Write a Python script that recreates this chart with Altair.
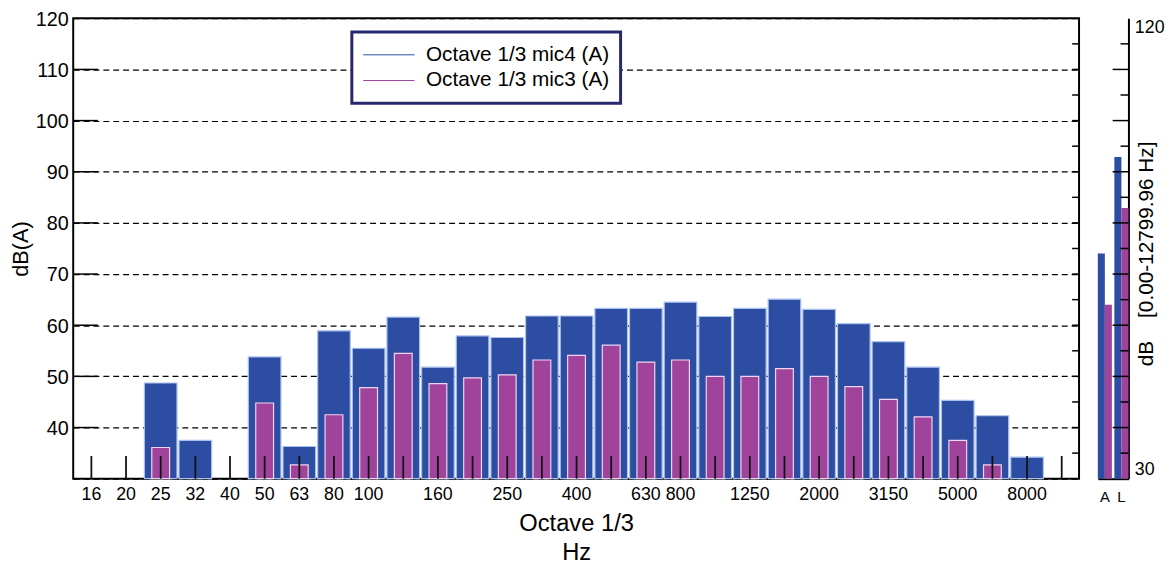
import altair as alt
import pandas as pd

# ---- data -------------------------------------------------------------
bands = ["16", "20", "25", "32", "40", "50", "63", "80", "100", "125",
         "160", "200", "250", "315", "400", "500", "630", "800", "1000",
         "1250", "1600", "2000", "2500", "3150", "4000", "5000", "6300",
         "8000", "10000"]
unlabeled_bands = ["125", "200", "315", "500", "1000", "1600", "2500",
                   "4000", "6300", "10000"]
mic4 = [None, None, 48.7, 37.5, None, 53.8, 36.3, 58.9, 55.5, 61.6,
        51.8, 57.9, 57.6, 61.8, 61.8, 63.3, 63.3, 64.5, 61.7, 63.3,
        65.1, 63.1, 60.3, 56.8, 51.8, 45.3, 42.3, 34.2, None]
mic3 = [None, None, 36.1, None, None, 44.8, 32.7, 42.5, 47.8, 54.5,
        48.6, 49.7, 50.3, 53.2, 54.1, 56.1, 52.8, 53.2, 50.0, 50.0,
        51.5, 50.0, 48.0, 45.5, 42.1, 37.5, 32.7, None, None]
series_names = ["Octave 1/3 mic4 (A)", "Octave 1/3 mic3 (A)"]
colors = ["#2c4da1", "#a0449b"]

left_ticks = [40, 50, 60, 70, 80, 90, 100, 110]
right_ticks = [35, 40, 45, 50, 55, 60, 65, 70, 75, 80, 85, 90, 95, 100,
               105, 110, 115]

sum_labels = ["A", "L"]
sum_mic4 = [74.0, 92.9]
sum_mic3 = [64.0, 82.9]
small_long = [40, 50, 60, 70, 80, 90, 100, 110]
small_short = [35, 45, 55, 65, 75, 85, 95, 105, 115]

W, H = 1018, 466
W2 = 31

# ---- tables -----------------------------------------------------------
rows = []
for i, b in enumerate(bands):
    rows.append({"band": b, "series": series_names[0], "val": mic4[i]})
    rows.append({"band": b, "series": series_names[1], "val": mic3[i]})
df = pd.DataFrame(rows)
df = df.dropna(subset=["val"])
df4 = df[df["series"] == series_names[0]]
df3 = df[df["series"] == series_names[1]]

srows = []
for i, lab in enumerate(sum_labels):
    srows.append({"label": lab, "series": series_names[0], "val": sum_mic4[i]})
    srows.append({"label": lab, "series": series_names[1], "val": sum_mic3[i]})
sdf = pd.DataFrame(srows)

x_scale = alt.Scale(domain=bands, paddingInner=0, paddingOuter=0.012, align=1)
y_scale = alt.Scale(domain=[30, 120], nice=False, zero=False)
color_scale = alt.Scale(domain=series_names, range=colors)

x_label_expr = " || ".join("datum.value == '" + b + "'" for b in unlabeled_bands)
x_label_expr = "(" + x_label_expr + ") ? '' : datum.label"

FONT = "Liberation Sans"

# shared axis definitions (identical in every layer so they merge cleanly)
x_axis = alt.Axis(labelExpr=x_label_expr, tickSize=0, domain=False,
                  grid=False, labelPadding=7, labelFontSize=18,
                  labelOverlap=False, labelAngle=0,
                  title=["Octave 1/3", "Hz"], titleFontSize=24,
                  titlePadding=8, titleLineHeight=30,
                  titleFontWeight="normal")
y_axis = alt.Axis(tickCount=9, labelExpr="datum.value == 30 ? '' : datum.label",
                  grid=True, gridDash=[6, 4], gridColor="black",
                  gridWidth=1.2, gridOpacity=1, tickSize=0, domain=False,
                  labelPadding=5, labelFontSize=20, labelOffset=1,
                  title="dB(A)", titleFontSize=22, titlePadding=3,
                  titleFontWeight="normal")
small_y_axis = alt.Axis(orient="right", tickCount=9,
                        labelExpr="(datum.value == 30 || datum.value == 120) ? datum.label : ''",
                        labelFlush=True, tickSize=0, grid=False, domain=True,
                        domainColor="black", domainWidth=2, labelPadding=6,
                        labelFontSize=18,
                        title="dB\u00a0\u00a0\u00a0\u00a0[0.00-12799.96 Hz]",
                        titleAngle=270, titleX=18, titleY=238,
                        titleFontSize=21, titleAlign="center",
                        titleBaseline="middle", titleFontWeight="normal")

X = alt.X("band:N", scale=x_scale, sort=bands, axis=x_axis)

# ---- main panel ---------------------------------------------------------
blue = alt.Chart(df4).mark_bar(width=33, stroke="#a9c1ef", strokeWidth=1.2).encode(
    x=X,
    y=alt.Y("val:Q", scale=y_scale, axis=y_axis),
    y2=alt.datum(30),
    color=alt.Color("series:N", scale=color_scale, legend=None),
)

magenta = alt.Chart(df3).mark_bar(width=18, stroke="#f0d4f2", strokeWidth=1.2).encode(
    x=X,
    y=alt.Y("val:Q", scale=y_scale, axis=y_axis),
    y2=alt.datum(30),
    color=alt.Color("series:N", scale=color_scale, legend=None),
)

legend_layer = alt.Chart(df).mark_line(strokeWidth=1).encode(
    x=X,
    y=alt.Y("val:Q", scale=y_scale, axis=y_axis),
    stroke=alt.Stroke("series:N", scale=color_scale,
                      legend=alt.Legend(title=None, orient="none", legendX=282,
                                        legendY=14, symbolType="stroke",
                                        symbolSize=2704, symbolStrokeWidth=1,
                                        labelFontSize=21, labelOffset=11,
                                        labelLimit=400, clipHeight=24,
                                        rowPadding=2, padding=11,
                                        strokeColor="#27296f",
                                        fillColor="white")),
).transform_filter("false")

bottom_ticks = alt.Chart(pd.DataFrame({"band": bands})).mark_rule(
    color="#111111", strokeWidth=1.8).encode(
    x=X,
    y=alt.value(H - 23), y2=alt.value(H),
)

left_tick_rules = alt.Chart(pd.DataFrame({"val": left_ticks})).mark_rule(
    color="black", strokeWidth=1.5).encode(
    y=alt.Y("val:Q", scale=y_scale, axis=y_axis),
    x=alt.value(0), x2=alt.value(25),
)

right_tick_rules = alt.Chart(pd.DataFrame({"val": right_ticks})).mark_rule(
    color="black", strokeWidth=1.5).encode(
    y=alt.Y("val:Q", scale=y_scale, axis=y_axis),
    x=alt.value(W - 7), x2=alt.value(W),
)

main = alt.layer(blue, magenta, legend_layer, bottom_ticks, left_tick_rules,
                 right_tick_rules).properties(
    width=W, height=H,
    view=alt.ViewBackground(stroke="black", strokeWidth=2),
)

# ---- summary panel -----------------------------------------------------
sbars = alt.Chart(sdf).mark_bar().encode(
    x=alt.X("label:N", sort=sum_labels,
            scale=alt.Scale(paddingInner=0.15, paddingOuter=0),
            axis=alt.Axis(title=None, labelAngle=0, tickSize=0, domain=True,
                          domainColor="black", domainWidth=2, labelPadding=11,
                          labelFontSize=15)),
    xOffset=alt.XOffset("series:N", sort=series_names),
    y=alt.Y("val:Q", scale=y_scale, axis=small_y_axis),
    y2=alt.datum(30),
    color=alt.Color("series:N", scale=color_scale, legend=None),
)

s_long = alt.Chart(pd.DataFrame({"val": small_long})).mark_rule(
    color="black", strokeWidth=1.5).encode(
    y=alt.Y("val:Q", scale=y_scale, axis=small_y_axis),
    x=alt.value(W2 - 16), x2=alt.value(W2),
)
s_short = alt.Chart(pd.DataFrame({"val": small_short})).mark_rule(
    color="black", strokeWidth=1.5).encode(
    y=alt.Y("val:Q", scale=y_scale, axis=small_y_axis),
    x=alt.value(W2 - 8), x2=alt.value(W2),
)

small = alt.layer(sbars, s_long, s_short).properties(
    width=W2, height=H,
    view=alt.ViewBackground(stroke="transparent"),
)

chart = alt.hconcat(main, small, spacing=16).resolve_scale(
    color="independent"
).properties(
    padding={"left": 0, "top": -3, "right": 0, "bottom": 0},
).configure(
    font=FONT,
).configure_axis(
    labelColor="black", titleColor="black", labelFont=FONT, titleFont=FONT,
).configure_legend(
    strokeWidth=3, labelFont=FONT, labelColor="black",
)

chart.save("out.html", embed_options={"renderer": "svg", "actions": False})
